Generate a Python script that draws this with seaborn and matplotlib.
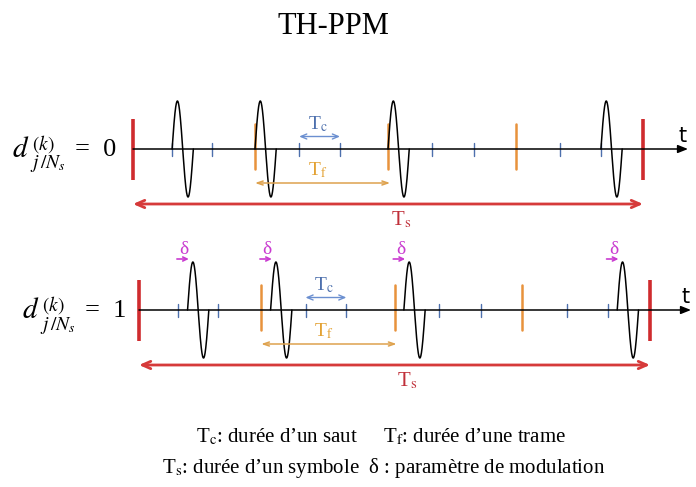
import numpy as np
import pandas as pd
import matplotlib
matplotlib.use("Agg")
import matplotlib.pyplot as plt
import seaborn as sns

# ---- data -------------------------------------------------------------
title = "TH-PPM"
data_bits = [0, 1]                      # d_{j/Ns}^{(k)} for each row
chips_per_frame = 3
chip_edges = [0.0, 0.92, 1.86, 2.87, 3.91, 4.87, 6.0,
              7.04, 8.02, 9.0, 10.05, 11.01, 12.0]   # in units of Tc
hopping_code = [1, 0, 0, 2]             # chip index inside each frame
delta = 0.22                            # PPM shift (Tc units)
pulse_width = 0.5                       # monocycle duration (Tc units)
pulse_amp = 48
legend_line1 = [r"T$_\mathrm{c}$: durée d’un saut", r"T$_\mathrm{f}$: durée d’une trame"]
legend_line2 = r"T$_\mathrm{s}$: durée d’un symbole  δ : paramètre de modulation"

# ---- style ------------------------------------------------------------
sns.set_theme(style="white")
plt.rcParams["font.family"] = ["Liberation Serif", "DejaVu Serif"]
plt.rcParams["mathtext.fontset"] = "stix"
plt.rcParams["text.color"] = "black"

RED = "#cf2b2e"
ORANGE = "#e8923c"
BLUE = "#4d70ad"
BLUE_ARROW = "#6b8fd0"
TF_COL = "#dea24e"
MAGENTA = "#c93bd0"

W, H = 696, 487
fig = plt.figure(figsize=(W / 100, H / 100), dpi=100)
fig.patch.set_facecolor("white")


def fx(px):
    return px / W


def fy(py):
    return 1 - py / H


# per-row placement: axis height (px), start/end of the symbol (px), label x
rows = [
    dict(y=149, x0=133, x1=643, arrow_end=688, lx=12),
    dict(y=310, x0=139, x1=650, arrow_end=691, lx=22),
]

frame_edge_idx = list(range(chips_per_frame, len(chip_edges) - 1, chips_per_frame))
pulse_idx = [j * chips_per_frame + c for j, c in enumerate(hopping_code)]

s = np.linspace(0, 1, 200)

for bit, r in zip(data_bits, rows):
    span = 160
    top_px = r["y"] - 78
    ax = fig.add_axes([0, 1 - (top_px + span) / H, 1, span / H])
    ax.set_facecolor("none")
    scale = (r["x1"] - r["x0"]) / chip_edges[-1]
    ax.set_xlim(-r["x0"] / scale, (W - r["x0"]) / scale)
    ax.set_ylim(-(span - 78), 78)
    ax.axis("off")

    t_end = (r["arrow_end"] - r["x0"]) / scale

    # time axis
    ax.annotate("", xy=(t_end, 0), xytext=(0, 0),
                arrowprops=dict(arrowstyle="-|>,head_length=0.5,head_width=0.2",
                                color="black", lw=1.1, shrinkA=0, shrinkB=0))
    ax.text(t_end - 0.12, 3, "t", fontsize=15, ha="center", va="bottom",
            family=["DejaVu Sans"])

    # chip ticks
    for i, e in enumerate(chip_edges):
        if i in (0, len(chip_edges) - 1) or i in frame_edge_idx:
            continue
        ax.plot([e, e], [6, -7], color=BLUE, lw=1)
    # frame boundaries
    for i in frame_edge_idx:
        ax.plot([chip_edges[i]] * 2, [25, -20], color=ORANGE, lw=1.8)
    # symbol boundaries
    for e in (chip_edges[0], chip_edges[-1]):
        ax.plot([e, e], [30, -31], color=RED, lw=2.6, solid_capstyle="butt")

    # pulses
    shift = delta if bit == 1 else 0.0
    curves = []
    for k, idx in enumerate(pulse_idx):
        start = chip_edges[idx] + shift
        curves.append(pd.DataFrame({"t": start + pulse_width * s,
                                    "amp": pulse_amp * np.sin(2 * np.pi * s),
                                    "pulse": k}))
    df = pd.concat(curves, ignore_index=True)
    sns.lineplot(data=df, x="t", y="amp", units="pulse", estimator=None,
                 sort=False, color="black", lw=1.1, ax=ax, legend=False)

    # Tc annotation
    a, b = chip_edges[4], chip_edges[5]
    ax.annotate("", xy=(b, 12.5), xytext=(a, 12.5),
                arrowprops=dict(arrowstyle="<->,head_length=0.35,head_width=0.15",
                                color=BLUE_ARROW, lw=1, shrinkA=0, shrinkB=0))
    ax.text((a + b) / 2 - 0.05, 15, r"T$_\mathrm{c}$", color=BLUE, fontsize=14,
            ha="center", va="bottom")

    # Tf annotation
    a, b = chip_edges[frame_edge_idx[0]], chip_edges[frame_edge_idx[1]]
    ax.annotate("", xy=(b + 0.05, -34), xytext=(a, -34),
                arrowprops=dict(arrowstyle="<->,head_length=0.35,head_width=0.12",
                                color=TF_COL, lw=1.1, shrinkA=0, shrinkB=0))
    ax.text((a + b) / 2 - 0.1, -31, r"T$_\mathrm{f}$", color="#e3a234", fontsize=14,
            ha="center", va="bottom")

    # Ts annotation
    ax.annotate("", xy=(chip_edges[-1], -55), xytext=(chip_edges[0], -55),
                arrowprops=dict(arrowstyle="<->,head_length=0.5,head_width=0.22",
                                color="#d63a3a", lw=2, shrinkA=0, shrinkB=0))
    ax.text(chip_edges[-1] / 2 + 0.3, -61, r"T$_\mathrm{s}$", color="#c0303a",
            fontsize=15, ha="center", va="top")

    # modulation shift markers
    if bit == 1:
        for idx in pulse_idx:
            e = chip_edges[idx]
            ax.annotate("", xy=(e + delta + 0.03, 51), xytext=(e - 0.03, 51),
                        arrowprops=dict(arrowstyle="->,head_length=0.25,head_width=0.12",
                                        color=MAGENTA, lw=1.2, shrinkA=0, shrinkB=0))
            ax.text(e + delta / 2 + 0.03, 55.5, "δ", color=MAGENTA, fontsize=14,
                    ha="center", va="baseline")

    # row label: d_{j/Ns}^{(k)} = bit
    lx, ly = r["lx"], r["y"]
    fig.text(fx(lx), fy(ly + 8), r"$d$", fontsize=21, ha="left", va="baseline")
    fig.text(fx(lx + 20), fy(ly - 5), r"$(k)$", fontsize=14, ha="left", va="center")
    fig.text(fx(lx + 18), fy(ly + 15), r"$j\,/N_{s}$", fontsize=14, ha="left",
             va="center")
    fig.text(fx(lx + 63), fy(ly + 1), "=  " + str(bit), fontsize=19, ha="left",
             va="center")

fig.text(fx(333), fy(27), title, fontsize=22, ha="center", va="center")
fig.text(fx(277), fy(437), legend_line1[0], fontsize=15, ha="center", va="center")
fig.text(fx(475), fy(437), legend_line1[1], fontsize=15, ha="center", va="center")
fig.text(fx(384), fy(468), legend_line2, fontsize=15, ha="center", va="center")

fig.savefig("out.png", dpi=100, facecolor="white")
